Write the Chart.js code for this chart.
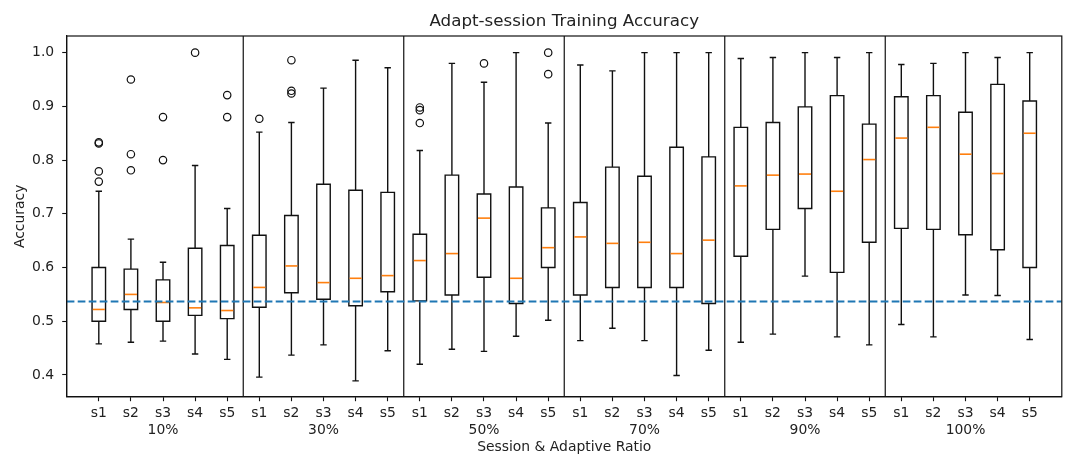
<!DOCTYPE html>
<html>
<head>
<meta charset="utf-8">
<script src="https://cdn.jsdelivr.net/npm/chart.js@4/dist/chart.umd.min.js"></script>
<style>
  html, body { margin: 0; padding: 0; background: #fff; }
  #wrap { position: relative; width: 1067px; height: 456px; }
</style>
</head>
<body>
<div id="wrap"><canvas id="chart"></canvas></div>
<script>
// ---- data ----
var groups = ['10%', '30%', '50%', '70%', '90%', '100%'];
var sessions = ['s1', 's2', 's3', 's4', 's5'];
var yTicks = [0.4, 0.5, 0.6, 0.7, 0.8, 0.9, 1.0];
var baseline = 0.537;

var whiskerLow = [
  0.458, 0.461, 0.463, 0.439, 0.429,
  0.396, 0.437, 0.456, 0.389, 0.445,
  0.420, 0.448, 0.444, 0.472, 0.502,
  0.464, 0.487, 0.464, 0.399, 0.446,
  0.461, 0.476, 0.584, 0.471, 0.456,
  0.494, 0.471, 0.549, 0.548, 0.466
];
var q1 = [
  0.500, 0.522, 0.500, 0.511, 0.505,
  0.526, 0.553, 0.541, 0.529, 0.555,
  0.538, 0.549, 0.582, 0.533, 0.600,
  0.549, 0.563, 0.563, 0.563, 0.533,
  0.621, 0.671, 0.710, 0.591, 0.647,
  0.673, 0.671, 0.661, 0.633, 0.600
];
var median = [
  0.522, 0.550, 0.535, 0.525, 0.520,
  0.563, 0.603, 0.572, 0.580, 0.585,
  0.613, 0.626, 0.692, 0.580, 0.637,
  0.657, 0.645, 0.647, 0.626, 0.651,
  0.752, 0.772, 0.774, 0.742, 0.801,
  0.841, 0.861, 0.811, 0.775, 0.850
];
var q3 = [
  0.600, 0.597, 0.577, 0.636, 0.641,
  0.660, 0.697, 0.755, 0.744, 0.740,
  0.662, 0.772, 0.737, 0.750, 0.711,
  0.721, 0.787, 0.770, 0.824, 0.806,
  0.861, 0.870, 0.899, 0.920, 0.867,
  0.918, 0.920, 0.889, 0.941, 0.910
];
var whiskerHigh = [
  0.742, 0.653, 0.610, 0.790, 0.710,
  0.852, 0.870, 0.934, 0.986, 0.972,
  0.818, 0.980, 0.945, 1.000, 0.869,
  0.977, 0.966, 1.000, 1.000, 1.000,
  0.989, 0.991, 1.000, 0.991, 1.000,
  0.978, 0.980, 1.000, 0.991, 1.000
];
var outliers = [
  [0.833, 0.831, 0.779, 0.760], [0.950, 0.811, 0.781], [0.880, 0.800], [1.000], [0.921, 0.880],
  [0.877], [0.986, 0.929, 0.924], [], [], [],
  [0.898, 0.893, 0.869], [], [0.980], [], [1.000, 0.960],
  [], [], [], [], [],
  [], [], [], [], [],
  [], [], [], [], []
];

(function() {
  'use strict';

  var FONT = 'DejaVu Sans';
  var INK = '#222';
  var TITLE = 'Adapt-session Training Accuracy';
  var BOX_W = 0.42;   // box width in x units
  var CAP_W = 0.2;    // whisker cap width

  var positions = median.map(function(_, i) { return i + 1; });

  var outlierPoints = [];
  outliers.forEach(function(list, i) {
    list.forEach(function(v) { outlierPoints.push({ x: positions[i], y: v }); });
  });

  // boxes, whiskers, medians, group separators, frame and title
  var boxPlugin = {
    id: 'boxes',
    beforeDatasetsDraw: function(chart) {
      var xs = chart.scales.x, ys = chart.scales.y, ctx = chart.ctx, area = chart.chartArea;
      ctx.save();
      ctx.lineWidth = 1.2;
      ctx.strokeStyle = '#111';
      for (var g = 1; g < groups.length; g++) {
        var sx = xs.getPixelForValue(g * sessions.length + 0.5);
        ctx.beginPath();
        ctx.moveTo(sx, area.top);
        ctx.lineTo(sx, area.bottom);
        ctx.stroke();
      }

      for (var i = 0; i < positions.length; i++) {
        var p = positions[i];
        var x = xs.getPixelForValue(p);
        var left = xs.getPixelForValue(p - BOX_W / 2), right = xs.getPixelForValue(p + BOX_W / 2);
        var capL = xs.getPixelForValue(p - CAP_W / 2), capR = xs.getPixelForValue(p + CAP_W / 2);
        var yLo = ys.getPixelForValue(whiskerLow[i]);
        var yQ1 = ys.getPixelForValue(q1[i]);
        var yMed = ys.getPixelForValue(median[i]);
        var yQ3 = ys.getPixelForValue(q3[i]);
        var yHi = ys.getPixelForValue(whiskerHigh[i]);

        ctx.lineWidth = 1.4;
        ctx.strokeStyle = '#111';
        ctx.beginPath();
        ctx.rect(left, yQ3, right - left, yQ1 - yQ3);
        ctx.moveTo(x, yQ3); ctx.lineTo(x, yHi);
        ctx.moveTo(x, yQ1); ctx.lineTo(x, yLo);
        ctx.moveTo(capL, yHi); ctx.lineTo(capR, yHi);
        ctx.moveTo(capL, yLo); ctx.lineTo(capR, yLo);
        ctx.stroke();

        ctx.lineWidth = 1.6;
        ctx.strokeStyle = '#ff7f0e';
        ctx.beginPath();
        ctx.moveTo(left + 0.7, yMed); ctx.lineTo(right - 0.7, yMed);
        ctx.stroke();
      }
      ctx.restore();
    },
    afterDraw: function(chart) {
      var ctx = chart.ctx, a = chart.chartArea;
      ctx.save();
      ctx.strokeStyle = '#111';
      ctx.lineWidth = 1.2;
      ctx.strokeRect(a.left, a.top, a.right - a.left, a.bottom - a.top);

      ctx.fillStyle = INK;
      ctx.font = '16.7px "' + FONT + '"';
      ctx.textAlign = 'center';
      ctx.textBaseline = 'middle';
      ctx.fillText(TITLE, (a.left + a.right) / 2, 21.5);
      ctx.restore();
    }
  };

  new Chart(document.getElementById('chart').getContext('2d'), {
    data: {
      datasets: [
        {
          type: 'line',
          data: [{ x: 0, y: baseline }, { x: positions.length + 1, y: baseline }],
          borderColor: '#1f77b4',
          borderWidth: 2,
          borderDash: [7.7, 3.3],
          pointRadius: 0,
          fill: false
        },
        {
          type: 'scatter',
          data: outlierPoints,
          pointStyle: 'circle',
          pointRadius: 3.7,
          borderColor: '#111',
          borderWidth: 1.2,
          backgroundColor: 'rgba(0,0,0,0)'
        }
      ]
    },
    options: {
      responsive: true,
      maintainAspectRatio: false,
      animation: false,
      events: [],
      layout: { padding: { left: 0, right: 1.3, top: 36, bottom: 0 } },
      plugins: {
        legend: { display: false },
        tooltip: { enabled: false },
        title: { display: false }
      },
      scales: {
        x: {
          type: 'linear',
          min: 0,
          max: positions.length + 1,
          afterBuildTicks: function(scale) {
            scale.ticks = positions.map(function(v) { return { value: v }; });
          },
          afterFit: function(scale) { scale.height = 59.3; },
          grid: { drawOnChartArea: false, drawTicks: true, tickLength: 4.5, tickColor: '#111', tickWidth: 1.1 },
          border: { display: true, color: '#111', width: 1.2 },
          ticks: {
            autoSkip: false,
            maxRotation: 0,
            padding: 3.3,
            color: INK,
            font: { family: FONT, size: 13.9, lineHeight: 17 / 13.9 },
            callback: function(v) {
              var idx = Math.round(v) - 1;
              var s = sessions[idx % sessions.length];
              if (idx % sessions.length === 2) return [s, groups[Math.floor(idx / sessions.length)]];
              return s;
            }
          },
          title: {
            display: true,
            text: 'Session & Adaptive Ratio',
            color: INK,
            font: { family: FONT, size: 13.9 },
            padding: { top: 0, bottom: 0 }
          }
        },
        y: {
          type: 'linear',
          min: 0.3596,
          max: 1.031,
          afterBuildTicks: function(scale) {
            scale.ticks = yTicks.map(function(v) { return { value: v }; });
          },
          afterFit: function(scale) { scale.width = 66.7; },
          grid: { drawOnChartArea: false, drawTicks: true, tickLength: 4.5, tickColor: '#111', tickWidth: 1.1 },
          border: { display: true, color: '#111', width: 1.2 },
          ticks: {
            padding: 8,
            color: INK,
            font: { family: FONT, size: 13.9 },
            callback: function(v) { return v.toFixed(1); }
          },
          title: {
            display: true,
            text: 'Accuracy',
            color: INK,
            font: { family: FONT, size: 13.9 },
            padding: { top: 11.7, bottom: 0 }
          }
        }
      }
    },
    plugins: [boxPlugin]
  });
})();
</script>
</body>
</html>
